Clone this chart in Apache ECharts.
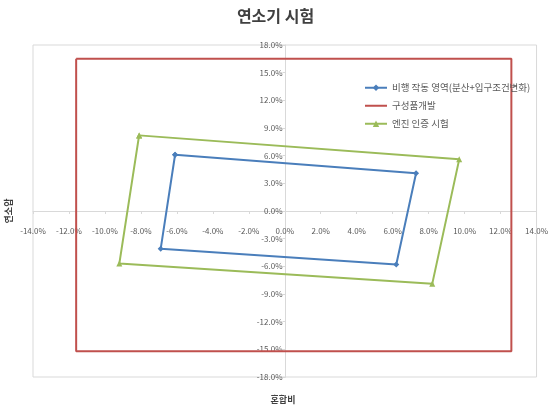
<!DOCTYPE html>
<html>
<head>
<meta charset="utf-8">
<script src="https://cdn.jsdelivr.net/npm/echarts@6/dist/echarts.min.js"></script>
<style>html,body{margin:0;padding:0;background:#fff}#c{width:551px;height:415px}</style>
</head>
<body>
<div id="c"></div>
<script>
// Data (percent units)
const seriesNames = ['비행 작동 영역(분산+입구조건변화)', '구성품개발', '엔진 인증 시험'];
const flightX = [-6.1, 7.3, 6.2, -6.9, -6.1];
const flightY = [6.1, 4.1, -5.8, -4.1, 6.1];
const compX = [-11.6, 12.6, 12.6, -11.6, -11.6];
const compY = [16.5, 16.5, -15.2, -15.2, 16.5];
const engineX = [-8.1, 9.7, 8.2, -9.2, -8.1];
const engineY = [8.2, 5.6, -7.9, -5.7, 8.2];
const xTicks = {min: -14, max: 14, step: 2};
const yTicks = {min: -18, max: 18, step: 3};

const pairs = (xs, ys) => xs.map((x, i) => [x, ys[i]]);
const fmt = v => v.toFixed(1) + '%';
const font = 'Noto Sans CJK KR, Noto Sans, sans-serif';

const G = {left: 33, right: 13, top: 45, bottom: 38};
const W = 551, H = 415;
const gw = W - G.left - G.right, gh = H - G.top - G.bottom;
// offset of axes so they sit on the zero lines
const xOff = -gh * (0 - yTicks.min) / (yTicks.max - yTicks.min);
const yOff = -gw * (0 - xTicks.min) / (xTicks.max - xTicks.min);

// thin line legend icon (tiny corner marks keep the 22x8 box so the bar stays thin)
const lineIcon = 'path://M0,3.1H22V4.9H0Z M0,0L0.01,0L0,0.01Z M22,8L21.99,8L22,7.99Z';

const chart = echarts.init(document.getElementById('c'));
chart.setOption({
  animation: false,
  title: {
    text: '연소기 시험', left: 'center', top: 3,
    textStyle: {fontSize: 16, fontWeight: 'bold', color: '#404040', fontFamily: font}
  },
  grid: {left: G.left, right: G.right, top: G.top, bottom: G.bottom, show: true, borderColor: '#d9d9d9', borderWidth: 1},
  legend: {
    show: true, orient: 'vertical', left: 359, top: 78, itemGap: 8.5, itemWidth: 22, itemHeight: 8,
    textStyle: {fontSize: 9.5, color: '#595959', fontFamily: font},
    data: [
      {name: seriesNames[0]},
      {name: seriesNames[1], icon: lineIcon},
      {name: seriesNames[2]}
    ]
  },
  xAxis: {
    type: 'value', min: xTicks.min, max: xTicks.max, interval: xTicks.step,
    position: 'bottom', offset: xOff,
    axisLine: {onZero: false, lineStyle: {color: '#d9d9d9'}},
    axisTick: {show: true, length: 3, lineStyle: {color: '#d9d9d9'}},
    splitLine: {show: false},
    axisLabel: {formatter: fmt, fontSize: 8, color: '#595959', margin: 16, fontFamily: font}
  },
  yAxis: {
    type: 'value', min: yTicks.min, max: yTicks.max, interval: yTicks.step,
    position: 'left', offset: yOff,
    axisLine: {onZero: false, lineStyle: {color: '#d9d9d9'}},
    axisTick: {show: true, length: 3, lineStyle: {color: '#d9d9d9'}},
    splitLine: {show: false},
    axisLabel: {formatter: fmt, fontSize: 8, color: '#595959', margin: 3, fontFamily: font}
  },
  graphic: [
    {type: 'text', x: 283, y: 400, style: {text: '혼합비', font: 'bold 9px Noto Sans CJK KR', fill: '#404040', align: 'center', verticalAlign: 'middle'}},
    {type: 'text', x: 9, y: 211, rotation: Math.PI / 2, style: {text: '연소압', font: 'bold 9px Noto Sans CJK KR', fill: '#404040', align: 'center', verticalAlign: 'middle'}}
  ],
  series: [
    {
      name: seriesNames[0], type: 'line', data: pairs(flightX, flightY),
      lineStyle: {width: 2, color: '#4a7ebb'},
      symbol: 'diamond', symbolSize: 6, itemStyle: {color: '#4a7ebb'}
    },
    {
      name: seriesNames[1], type: 'line', data: pairs(compX, compY),
      lineStyle: {width: 2, color: '#c0504d'},
      symbol: 'none', itemStyle: {color: '#c0504d'}
    },
    {
      name: seriesNames[2], type: 'line', data: pairs(engineX, engineY),
      lineStyle: {width: 2, color: '#9bbb59'},
      symbol: 'triangle', symbolSize: 6, itemStyle: {color: '#9bbb59'}
    }
  ]
});
</script>
</body>
</html>
